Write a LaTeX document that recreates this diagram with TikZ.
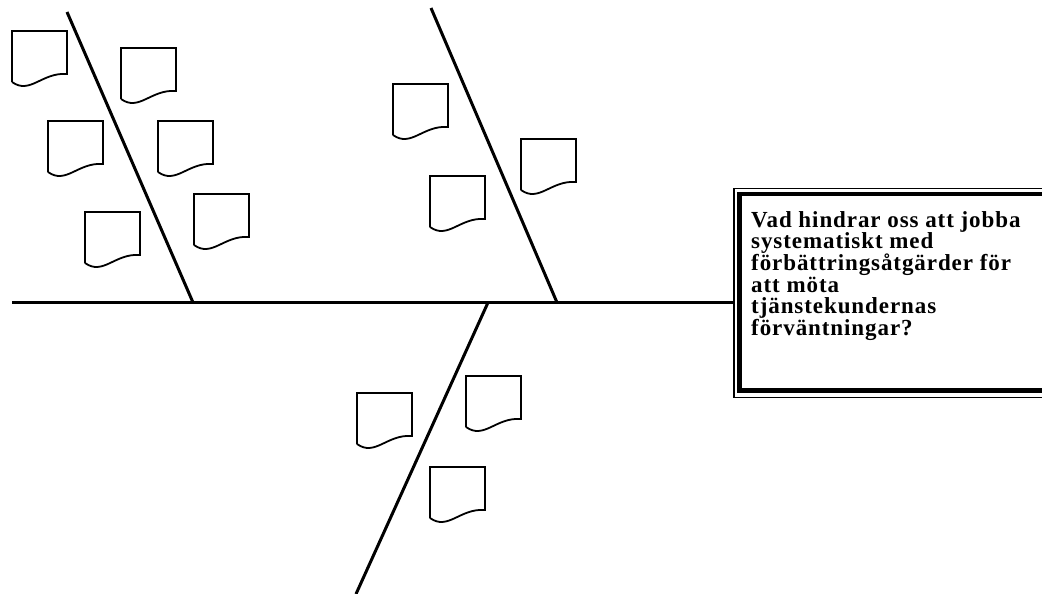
\documentclass[tikz,border=0pt]{standalone}
\usepackage{fontspec}
\setmainfont{Liberation Serif}
\newfontfamily\qfont[LetterSpace=4]{Liberation Serif}
\begin{document}
\begin{tikzpicture}[x=1pt,y=-1pt,
  bone/.style={line width=3pt},
  memo/.pic={\draw[line width=1.8pt, line join=miter]
      (0,51) -- (0,0) -- (55,0) -- (55,43) .. controls (30,41) and (18,64) .. (0,51);},
  question/.style={anchor=north west, inner sep=0pt, align=left,
      font=\qfont\fontsize{23}{21.7}\selectfont\bfseries}]
\clip (0,0) rectangle (1042,594);
\fill[white] (0,0) rectangle (1042,594);

% effect box with a double frame
\draw[line width=1.2pt] (734,188.5) rectangle (1060,397.5);
\draw[line width=4.5pt] (739.5,194) rectangle (1060,390.5);
\node[question] (q) at (751,211)
  {Vad hindrar oss att jobba\\systematiskt med\\förbättringsåtgärder för\\att möta\\tjänstekundernas\\förväntningar?};

% spine and bones
\coordinate (tail) at (12,302.5);
\coordinate (head) at (734,302.5);
\coordinate (b1top) at (67,12);
\coordinate (b1) at (193,302.5);
\coordinate (b2top) at (431,8);
\coordinate (b2) at (557,302.5);
\coordinate (b3) at (488,302.5);
\coordinate (b3end) at (356,594);
\draw[bone] (tail) -- (head);
\draw[bone] (b1top) -- (b1);
\draw[bone] (b2top) -- (b2);
\draw[bone] (b3) -- (b3end);

% cause notes
\foreach \x/\y in {12/31, 121/48, 48/121, 158/121, 85/212, 194/194,
                   393/84, 430/176, 521/139,
                   357/393, 466/376, 430/467}
  \pic at (\x,\y) {memo};
\end{tikzpicture}
\end{document}
